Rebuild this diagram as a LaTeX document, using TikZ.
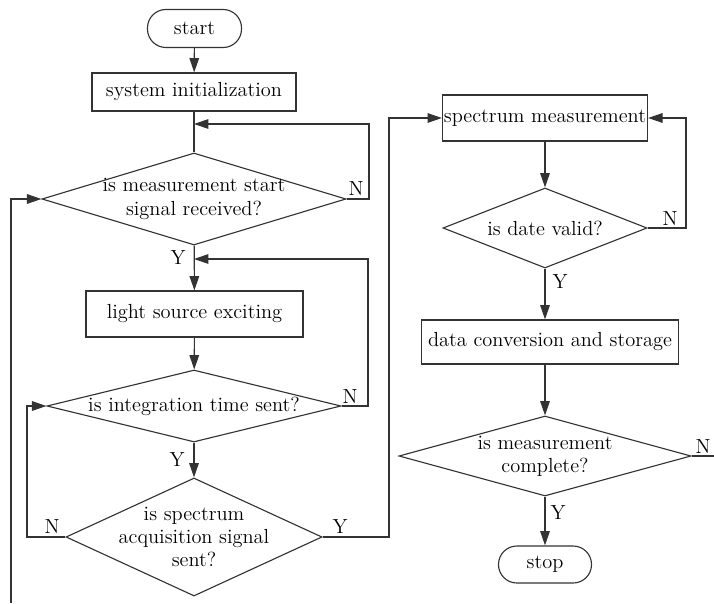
\documentclass[tikz,border=0pt]{standalone}
\usetikzlibrary{arrows.meta,shapes.geometric}

\tikzset{
  line/.style={draw=black!80, line width=0.8pt},
  flow/.style={line, -{Triangle[length=3.6mm,width=2.4mm]}},
  terminal/.style={line, rectangle, rounded corners=0.46cm, inner sep=0pt},
  process/.style={line, rectangle, inner sep=0pt},
  decision/.style={line, diamond, inner sep=0pt},
  txt/.style={align=center, inner sep=0pt, font=\fontsize{14.5}{16.5}\selectfont},
  yn/.style={font=\fontsize{14.5}{16.5}\selectfont, inner sep=0pt}
}

\begin{document}
\begin{tikzpicture}[x=0.025cm, y=-0.025cm]

\useasboundingbox (0,0) rectangle (714,603);

\node [terminal, minimum width=2.35cm, minimum height=0.95cm] (start) at (194.5,28.5) {};
\node [txt] (startt) at (start) {start};
\node [process, minimum width=5.1cm, minimum height=0.95cm] (init) at (194,92) {};
\node [txt] (initt) at (init) {system initialization};
\node [decision, minimum width=7.6cm, minimum height=2.3cm] (d1) at (194,199) {};
\node [txt] (d1t) at (d1) {is measurement start\\signal received?};
\node [process, minimum width=5.425cm, minimum height=1.15cm] (light) at (194.5,314) {};
\node [txt] (lightt) at (light) {light source exciting};
\node [decision, minimum width=7.35cm, minimum height=1.8cm] (d2) at (194,406) {};
\node [txt] (d2t) at (d2) {is integration time sent?};
\node [decision, minimum width=6.4cm, minimum height=2.95cm] (d3) at (194,537) {};
\node [txt] (d3t) at (d3) {is spectrum\\acquisition signal\\sent?};

\node [process, minimum width=5.125cm, minimum height=1.15cm] (spec) at (545,118) {};
\node [txt] (spect) at (spec) {spectrum measurement};
\node [decision, minimum width=5.1cm, minimum height=2cm] (d4) at (545,228) {};
\node [txt] (d4t) at (d4) {is date valid?};
\node [process, minimum width=6.425cm, minimum height=1.1cm] (data) at (550,342) {};
\node [txt] (datat) at (data) {data conversion and storage};
\node [decision, minimum width=7.3cm, minimum height=2cm] (d5) at (545,456) {};
\node [txt] (d5t) at (d5) {is measurement\\complete?};
\node [terminal, minimum width=2.325cm, minimum height=0.925cm] (stop) at (545,564.5) {};
\node [txt] (stopt) at (stop) {stop};

\coordinate (n1) at (369,124);
\coordinate (j1) at (194,124);
\coordinate (n2) at (368,259);
\coordinate (j2) at (194,259);
\coordinate (l3) at (27,537);
\coordinate (r3) at (389,537);
\coordinate (n4) at (686,228);
\coordinate (lb) at (11,603);
\coordinate (rb) at (714,456);

\draw [flow] (start) -- (init);
\draw [line] (init) -- (d1);
\draw [flow] (d1) -- (light);
\draw [flow] (light) -- (d2);
\draw [flow] (d2) -- (d3);
\draw [flow] (d1.east) -| (n1) -- (j1);
\draw [flow] (d2.east) -| (n2) -- (j2);
\draw [flow] (d3.west) -- (l3) |- (d2.west);
\draw [flow] (d3.east) -- (r3) |- (spec.west);
\draw [flow] (lb) |- (d1.west);

\draw [flow] (spec) -- (d4);
\draw [flow] (d4.east) -| (n4) |- (spec.east);
\draw [flow] (d4.south) -- (d4.south |- data.north);
\draw [flow] (data.south -| d5.north) -- (d5.north);
\draw [flow] (d5) -- (stop);
\draw [line] (d5.east) -- (rb);

\node [yn] (y1) at (178,258) {Y};
\node [yn] (no1) at (356,189) {N};
\node [yn] (no2) at (350,397) {N};
\node [yn] (y2) at (177,460) {Y};
\node [yn] (no3) at (52,527) {N};
\node [yn] (y3) at (340,527) {Y};
\node [yn] (no4) at (670,219) {N};
\node [yn] (y4) at (560,282) {Y};
\node [yn] (no5) at (703,447) {N};
\node [yn] (y5) at (558,513) {Y};

\end{tikzpicture}
\end{document}
